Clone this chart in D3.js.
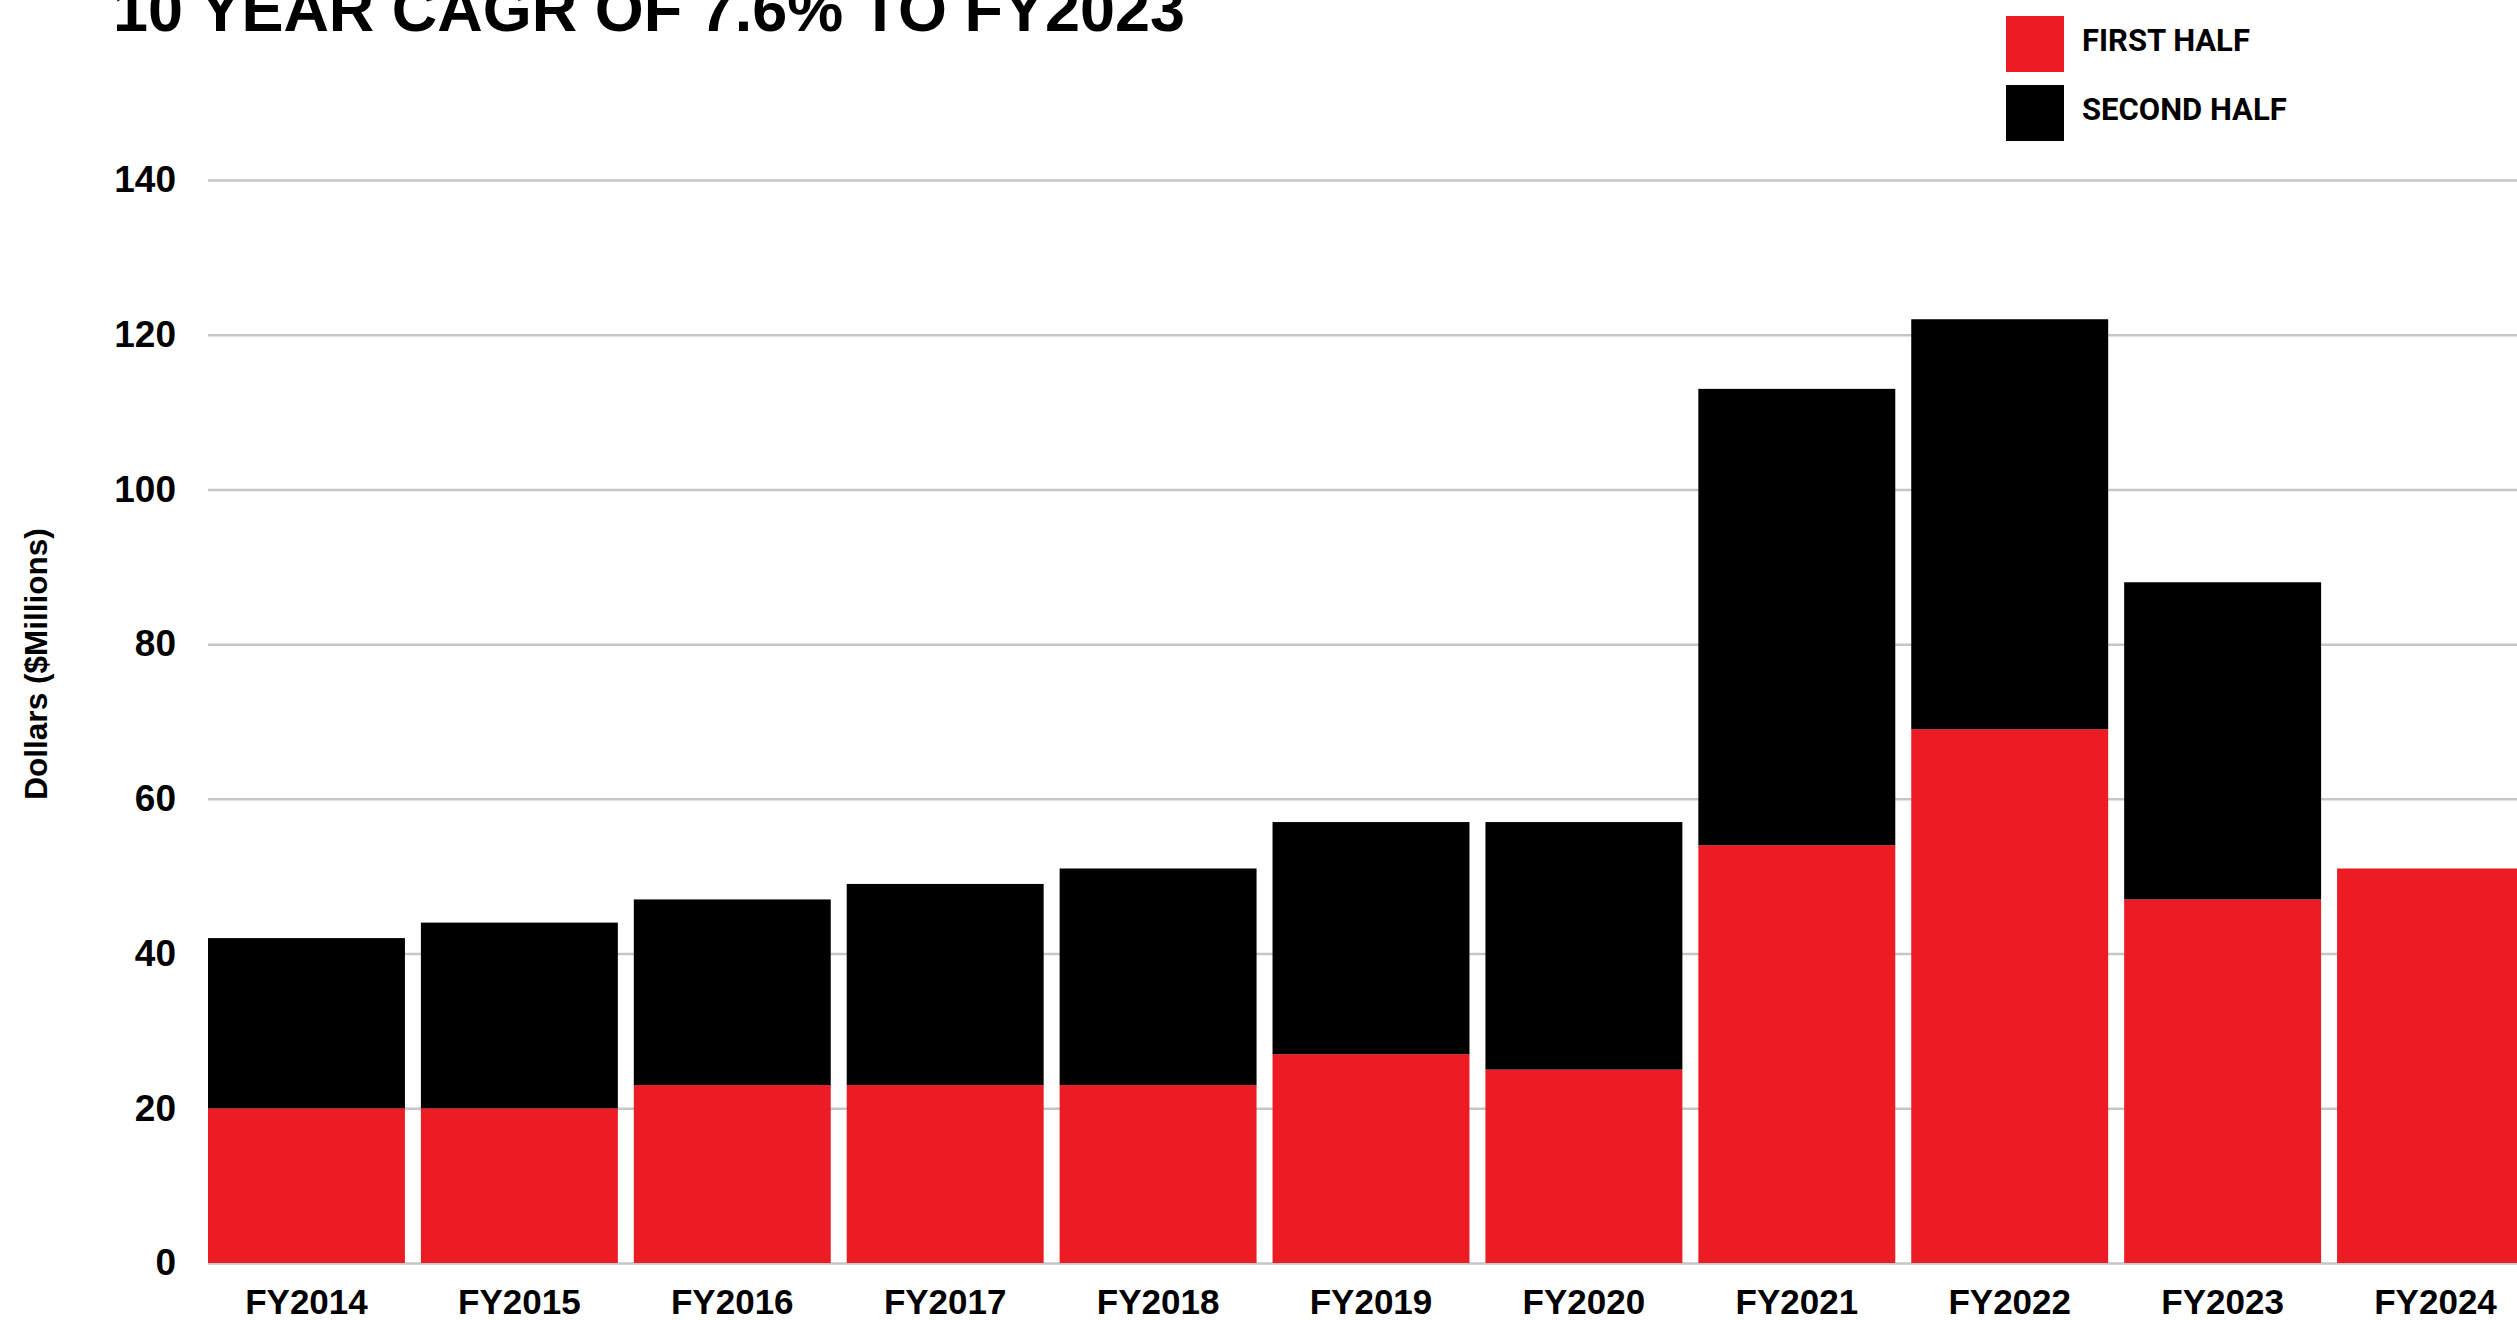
<!DOCTYPE html>
<html>
<head>
<meta charset="utf-8">
<script src="https://cdn.jsdelivr.net/npm/d3@7"></script>
<style>
  body { margin: 0; background: #fff; }
  svg { display: block; }
</style>
</head>
<body>
<div id="chart"></div>
<script>
/* global d3 */

// Data
const years = ['FY2014', 'FY2015', 'FY2016', 'FY2017', 'FY2018', 'FY2019', 'FY2020', 'FY2021', 'FY2022', 'FY2023', 'FY2024']
const firstHalf = [20, 20, 23, 23, 23, 27, 25, 54, 69, 47, 51]
const secondHalf = [22, 24, 24, 26, 28, 30, 32, 59, 53, 41, 0]
const yTicks = [0, 20, 40, 60, 80, 100, 120, 140]
const seriesNames = ['FIRST HALF', 'SECOND HALF']

// Our canvas
const width = 2517,
  height = 1320
const red = '#ec1c24'

let svg = d3.select('#chart')
  .append('svg')
  .attr('width', width)
  .attr('height', height)

const rows = years.map((y, i) => ({ year: y, first: firstHalf[i], second: secondHalf[i] }))
const stack = d3.stack().keys(['first', 'second'])(rows)

const xScale = d3.scaleBand()
  .domain(years)
  .range([208, 2534])
  .paddingInner(0.075)
  .paddingOuter(0)

const yScale = d3.scaleLinear()
  .domain([0, 140])
  .range([1263, 180])

const colorScale = d3.scaleOrdinal()
  .domain(['first', 'second'])
  .range([red, '#000'])

// gridlines
svg.append('g')
  .attr('transform', 'translate(208,0)')
  .call(d3.axisLeft(yScale).tickValues(yTicks).tickSize(-(width - 208)).tickFormat(''))
  .call(g => g.select('.domain').remove())
  .call(g => g.selectAll('line').attr('stroke', '#c6c6c6').attr('stroke-width', 2.5))

// bars
svg.selectAll('g.layer')
  .data(stack)
  .enter()
  .append('g')
  .attr('class', 'layer')
  .attr('fill', d => colorScale(d.key))
  .selectAll('rect')
  .data(d => d)
  .enter()
  .append('rect')
  .attr('x', d => xScale(d.data.year))
  .attr('y', d => yScale(d[1]))
  .attr('width', xScale.bandwidth())
  .attr('height', d => yScale(d[0]) - yScale(d[1]))

// y axis labels
svg.append('g')
  .attr('transform', 'translate(208,0)')
  .call(d3.axisLeft(yScale).tickValues(yTicks).tickSize(0).tickPadding(32))
  .call(g => g.select('.domain').remove())
  .call(g => g.selectAll('text')
    .attr('font-family', '"Liberation Sans", Arial, sans-serif')
    .attr('font-weight', 'bold')
    .attr('font-size', 37)
    .attr('fill', '#000'))

// x axis labels
svg.append('g')
  .attr('transform', 'translate(0,1263)')
  .call(d3.axisBottom(xScale).tickSize(0).tickPadding(26))
  .call(g => g.select('.domain').remove())
  .call(g => g.selectAll('text')
    .attr('font-family', '"Liberation Sans", Arial, sans-serif')
    .attr('font-weight', 'bold')
    .attr('font-size', 35)
    .attr('fill', '#000'))

// y axis title
svg.append('text')
  .attr('transform', 'translate(47,664) rotate(-90)')
  .attr('text-anchor', 'middle')
  .attr('font-family', '"Liberation Sans", Arial, sans-serif')
  .attr('font-weight', 'bold')
  .attr('font-size', 31.5)
  .text('Dollars ($Millions)')

// title (cut off at the top, like the reference)
svg.append('text')
  .attr('x', 113)
  .attr('y', 31)
  .attr('font-family', '"Liberation Sans", Arial, sans-serif')
  .attr('font-weight', 'bold')
  .attr('font-size', 63)
  .attr('textLength', 1072)
  .attr('lengthAdjust', 'spacingAndGlyphs')
  .text('10 YEAR CAGR OF 7.6% TO FY2023')

// legend
let legend = svg.selectAll('g.legend')
  .data(seriesNames)
  .enter()
  .append('g')
  .attr('class', 'legend')
  .attr('transform', (d, i) => `translate(2006,${16 + i * 69})`)

legend.append('rect')
  .attr('width', 58)
  .attr('height', 56)
  .attr('fill', (d, i) => colorScale.range()[i])

legend.append('text')
  .attr('x', 76)
  .attr('y', 35)
  .attr('font-family', 'Roboto, sans-serif')
  .attr('font-weight', 'bold')
  .attr('font-size', 31)
  .text(d => d)
</script>
</body>
</html>
